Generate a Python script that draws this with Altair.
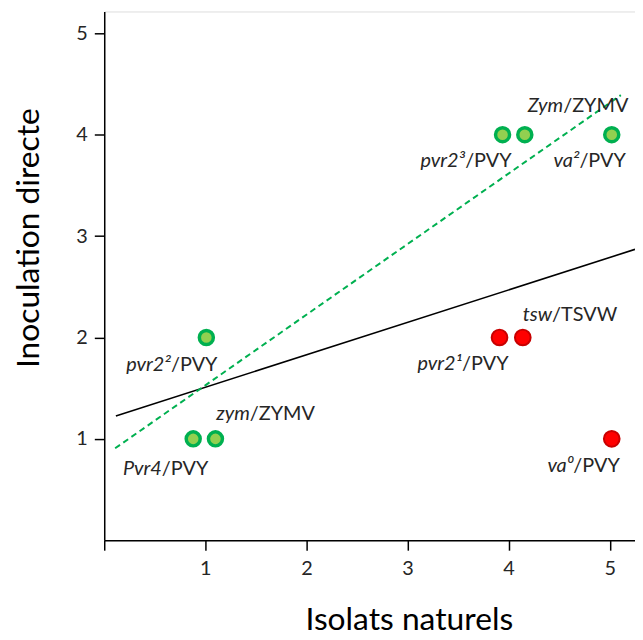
import altair as alt
import pandas as pd

# Points (x = Isolats naturels, y = Inoculation directe)
green_x = [0.88, 1.10, 1.01, 3.94, 4.16, 5.02]
green_y = [1, 1, 2, 4, 4, 4]
red_x = [3.91, 4.14, 5.02]
red_y = [2, 2, 1]

# Annotation labels (italic gene part + normal virus part), anchored at the slash
label_italic = ["Zym", "pvr2³", "va²", "pvr2²", "zym", "Pvr4", "tsw", "pvr2¹", "va⁰"]
label_normal = ["/ZYMV", "/PVY", "/PVY", "/PVY", "/ZYMV", "/PVY", "/TSVW", "/PVY", "/PVY"]
label_x = [4.54, 3.57, 4.70, 0.66, 1.44, 0.57, 4.43, 3.54, 4.64]
label_y = [4.28, 3.74, 3.74, 1.73, 1.24, 0.70, 2.22, 1.74, 0.73]

# Trend lines (end points)
solid_x = [0.115, 5.25]
solid_y = [1.226, 2.869]
dashed_x = [0.108, 5.11]
dashed_y = [0.907, 4.39]

x_ticks = [0, 1, 2, 3, 4, 5]
y_ticks = [1, 2, 3, 4, 5]

FONT = "Lato"
TXT = "#262626"

green = pd.DataFrame({"x": green_x, "y": green_y})
red = pd.DataFrame({"x": red_x, "y": red_y})
labels = pd.DataFrame({"x": label_x, "y": label_y, "it": label_italic, "nm": label_normal})
solid = pd.DataFrame({"x": solid_x, "y": solid_y})
dashed = pd.DataFrame({"x": dashed_x, "y": dashed_y})

xscale = alt.Scale(domain=[0, 5.25], nice=False, zero=False)
yscale = alt.Scale(domain=[0, 5.215], nice=False, zero=False)

xaxis = alt.Axis(
    values=x_ticks, format="d", labelExpr="datum.value == 0 ? '' : datum.label",
    tickSize=10, labelPadding=9, labelFontSize=20, labelFont=FONT, labelColor=TXT,
    domainColor="black", tickColor="black", domainWidth=1.5, tickWidth=1.5, grid=False,
    title="Isolats naturels", titleFont=FONT, titleFontSize=32, titleFontWeight="normal",
    titleColor="black", titleX=307, titleY=90, titleBaseline="alphabetic",
)
yaxis = alt.Axis(
    values=y_ticks, format="d", tickSize=10, labelPadding=7, labelFontSize=20, labelFont=FONT,
    labelColor=TXT, domainColor="black", tickColor="black", domainWidth=1.5, tickWidth=1.5,
    grid=False, title="Inoculation directe", titleFont=FONT, titleFontSize=32,
    titleFontWeight="normal", titleColor="black", titleX=-66, titleY=228,
    titleBaseline="alphabetic", titleAngle=270,
)

solid_line = alt.Chart(solid).mark_line(color="black", strokeWidth=1.6, clip=True).encode(
    x=alt.X("x:Q", scale=xscale, axis=xaxis),
    y=alt.Y("y:Q", scale=yscale, axis=yaxis),
)
dashed_line = alt.Chart(dashed).mark_line(
    color="#00B050", strokeWidth=2, strokeDash=[6, 4], clip=True
).encode(x="x:Q", y="y:Q")

green_pts = alt.Chart(green).mark_point(
    shape="circle", filled=True, size=200, fill="#92D050", stroke="#00B050",
    strokeWidth=3.5, opacity=1, fillOpacity=1
).encode(x="x:Q", y="y:Q")

red_pts = alt.Chart(red).mark_point(
    shape="circle", filled=True, size=250, fill="#FF0000", stroke="#C80000",
    strokeWidth=2, opacity=1, fillOpacity=1
).encode(x="x:Q", y="y:Q")

it_text = alt.Chart(labels).mark_text(
    align="right", baseline="middle", font=FONT, fontStyle="italic", fontSize=20, color=TXT
).encode(x="x:Q", y="y:Q", text="it:N")

nm_text = alt.Chart(labels).mark_text(
    align="left", baseline="middle", font=FONT, fontSize=20, color=TXT
).encode(x="x:Q", y="y:Q", text="nm:N")

chart = alt.layer(solid_line, dashed_line, green_pts, red_pts, it_text, nm_text).properties(
    width=535, height=533,
    autosize=alt.AutoSizeParams(type="none"),
    padding={"left": 97, "top": 1, "right": 0, "bottom": 95},
).configure_view(stroke=None).configure(background="white")

chart.save("out.html", embed_options={"renderer": "svg", "actions": False})
